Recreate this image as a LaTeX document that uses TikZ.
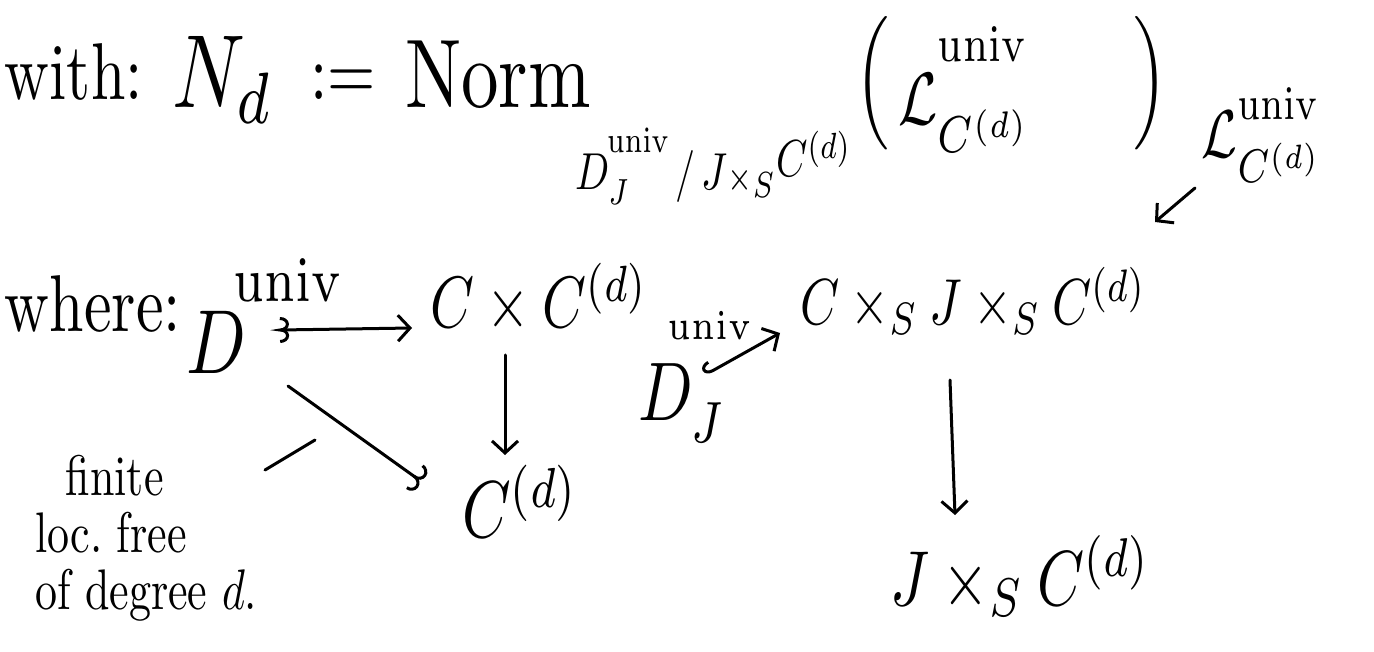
\documentclass[tikz,border=0pt]{standalone}
\usepackage{amsmath}
\usepackage{graphicx}
\usetikzlibrary{arrows.meta,calc}
\tikzset{
  txt/.style={inner sep=0pt, outer sep=0pt},
  sz/.style={scale=#1/10, yscale=1.3, transform shape},
  arr/.style={line width=3pt, line cap=round, -{Straight Barb[length=12pt,width=26pt,line width=3pt]}},
  hookarr/.style={line width=3pt, line cap=round, {Hooks[right,length=9pt,width=22pt]}-{Straight Barb[length=12pt,width=26pt]}},
  bothhook/.style={line width=3pt, line cap=round, {Hooks[reversed,length=9pt,width=26pt]}-{Straight Barb[length=12pt,width=26pt]}},
  curlarr/.style={line width=3pt, line cap=round, -{Hooks[length=9pt,width=30pt]}},
  plainline/.style={line width=3pt, line cap=round},
}
\newcommand{\hiunv}[2]{\kern#1\raisebox{#2}{$\scriptstyle\mathrm{univ}$}}
\newcommand{\hiunvs}[2]{\kern#1\raisebox{#2}{$\scriptscriptstyle\mathrm{univ}$}}
\newcommand{\tallparen}[1]{\raisebox{3.1pt}{$#1$}}
\begin{document}
\begin{tikzpicture}[x=1pt,y=-1pt]
\useasboundingbox (0,0) rectangle (1374,652);
% top line
\node[txt,sz=62,anchor=base west] (with) at (5,100) {with:};
\node[txt,sz=80,anchor=base west] (Nd) at (172,108) {$N_d$};
\node[txt,sz=62,anchor=base west] (def) at (310,100) {$:=$};
\node[txt,sz=75,anchor=base west] (Norm) at (405,108) {Norm};
\node[txt,sz=40,anchor=base west] (sub) at (575,190) {$D^{\hiunv{-0.5pt}{3.5pt}}_{J}\mkern2mu/\mkern3mu J{\scriptstyle\times}_{S}\raisebox{2.5pt}{$C^{(d)}$}$};
\node[txt,sz=57,anchor=base west] (Lp) at (855,125) {$\tallparen{\Bigl(}\mkern3mu\mathcal{L}^{\hiunv{0pt}{5pt}}_{C^{(d)}}\hspace{18pt}\tallparen{\Bigr)}$};
\node[txt,sz=52] (Lr) at (1262,135) {$\mathcal{L}^{\hiunv{0pt}{2pt}}_{C^{(d)}}$};
% where
\node[txt,sz=62,anchor=base west] (where) at (5,332) {where:};
\node[txt,sz=70,anchor=base west] (Du) at (186,374) {$D^{\hiunv{-1.7pt}{4.3pt}}$};
\node[txt,sz=56,anchor=base west] (CC) at (430,328) {$C\times C^{(d)}$};
\node[txt,sz=62,anchor=base west] (Cd) at (462,537) {$C^{(d)}$};
\node[txt,sz=44,anchor=north west,align=left,font=\fontsize{10}{10}\selectfont] (lab) at (35,455) {\hspace*{7pt}finite\\loc.\ free\\of degree $d$.};
\node[txt,sz=64,anchor=base west] (DJ) at (638,420) {$D^{\hiunvs{-4pt}{6pt}}_J$};
\node[txt,sz=50,anchor=base west] (CJC) at (800,325) {$C\times_S J\times_S C^{(d)}$};
\node[txt,sz=60,anchor=base west] (JC) at (890,605) {$J\times_S C^{(d)}$};
% arrows
\draw[bothhook] ([xshift=94pt,yshift=44pt]Du.base west) -- ([xshift=-18pt,yshift=0pt]CC.base west);
\draw[curlarr] ([xshift=102pt,yshift=-12pt]Du.base west) -- ([xshift=-40pt,yshift=55pt]Cd.base west);
\draw[plainline] ([xshift=230pt,yshift=-15pt]lab.north west) -- ([xshift=280pt,yshift=15pt]lab.north west);
\draw[arr] ([xshift=75pt,yshift=-27pt]CC.base west) -- ([xshift=43pt,yshift=82pt]Cd.base west);
\draw[hookarr] ([xshift=67pt,yshift=45pt]DJ.base west) -- ([xshift=-20pt,yshift=-8pt]CJC.base west);
\draw[arr] ([xshift=150pt,yshift=-55pt]CJC.base west) -- ([xshift=65pt,yshift=90pt]JC.base west);
\draw[arr] ([xshift=-67pt,yshift=-53pt]Lr.center) -- ([xshift=355pt,yshift=103pt]CJC.base west);
\end{tikzpicture}
\end{document}
